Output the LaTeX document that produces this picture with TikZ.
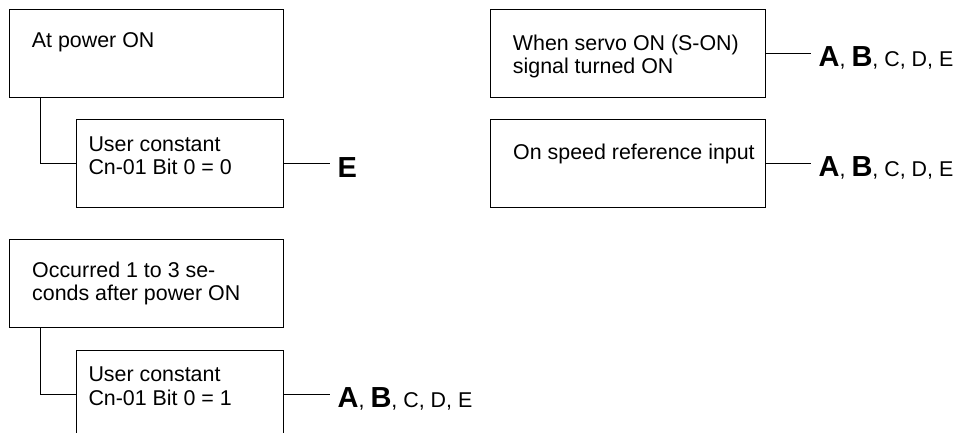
\documentclass[tikz,border=0pt]{standalone}
\usepackage{fontspec}
\setmainfont{Liberation Sans}
\begin{document}
\begin{tikzpicture}[x=1pt,y=-1pt,
  box/.style={draw,line width=0.9pt,inner sep=0pt,minimum height=88pt},
  wide/.style={box,minimum width=274.4pt},
  narrow/.style={box,minimum width=207.4pt},
  txt/.style={inner sep=0pt,anchor=base west,align=left,font=\fontsize{21.4}{23.3}\selectfont},
  lbl/.style={inner ysep=0pt,inner xsep=0pt,anchor=base west,font=\fontsize{21.4}{23.3}\selectfont},
  conn/.style={line width=0.9pt}]
\clip (0,0) rectangle (962,433);
\fill[white] (0,0) rectangle (962,433);
% boxes
\node[wide]   (b1) at (146.5,53.3) {};
\node[narrow] (b2) at (180,163.3) {};
\node[wide]   (b3) at (146.5,283.7) {};
\node[narrow] (b4) at (180,394) {};
\node[wide]   (b5) at (628,53.3) {};
\node[wide]   (b6) at (628,163.3) {};
% texts (base = last line)
\node[txt] (t1) at (31.7,47.7) {At power ON};
\node[txt] (t2) at (88.3,175) {User constant\\Cn-01 Bit 0 = 0};
\node[txt] (t3) at (32,300.6) {Occurred 1 to 3 se-\\conds after power ON};
\node[txt] (t4) at (88.3,405) {User constant\\Cn-01 Bit 0 = 1};
\node[txt] (t5) at (512.7,74) {When servo ON (S-ON)\\signal turned ON};
\node[txt] (t6) at (513,160) {On speed reference input};
% labels
\newcommand{\BigB}[1]{{\fontsize{29}{30}\selectfont\bfseries #1}}
\newcommand{\ABCDE}{\BigB{A}, \BigB{B}, C, D, E}
\node[lbl] (l2) at (337.5,177.6) {\BigB{E}};
\node[lbl] (l4) at (337.5,407.5) {\ABCDE};
\node[lbl] (l5) at (818.5,67) {\ABCDE};
\node[lbl] (l6) at (818.5,177) {\ABCDE};
% connectors
\draw[conn] (b1.south -| 40,0) |- (b2.west);
\draw[conn] (b3.south -| 40,0) |- (b4.west);
\coordinate (e2) at ([xshift=45.6pt]b2.east);
\coordinate (e4) at ([xshift=45.6pt]b4.east);
\coordinate (e5) at ([xshift=45pt]b5.east);
\coordinate (e6) at ([xshift=45pt]b6.east);
\draw[conn] (b2.east) -- (e2);
\draw[conn] (b4.east) -- (e4);
\draw[conn] (b5.east) -- (e5);
\draw[conn] (b6.east) -- (e6);
\end{tikzpicture}
\end{document}
